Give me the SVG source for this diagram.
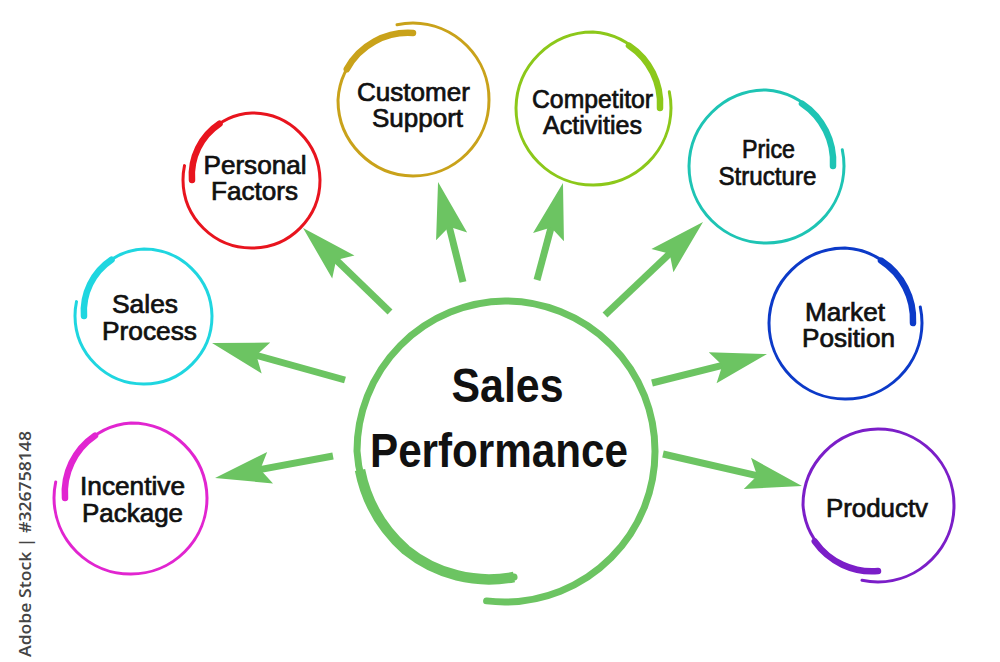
<svg xmlns="http://www.w3.org/2000/svg" width="1000" height="662" viewBox="0 0 1000 662">
<style>
.lbl{font-family:"Liberation Sans",Arial,sans-serif;font-weight:400;font-size:25px;fill:#111;stroke:#111;stroke-width:0.7;text-anchor:middle}
.big{font-family:"Liberation Sans",Arial,sans-serif;font-weight:700;font-size:49px;fill:#111;text-anchor:middle}
.ring{fill:none;stroke-width:3;stroke-linecap:round}
.thick{fill:none;stroke-width:6.5;stroke-linecap:round}
.arr{stroke:#6cc462;stroke-width:7;fill:none;marker-end:url(#ah)}
</style>
<defs>
<marker id="ah" markerUnits="userSpaceOnUse" viewBox="-14 -18 60 36" markerWidth="60" markerHeight="36" refX="0" refY="0" orient="auto" overflow="visible">
<path d="M44 0 L-12 -16 L-2 0 L-12 16 Z" fill="#6cc462"/>
</marker>
</defs>
<rect width="1000" height="662" fill="#fff"/>

<g id="connectors">
<line class="arr" x1="333" y1="456" x2="258.3" y2="469.9"/>
<line class="arr" x1="345" y1="380" x2="254.4" y2="354.8"/>
<line class="arr" x1="390" y1="312" x2="334.7" y2="258.6"/>
<line class="arr" x1="463" y1="282" x2="448.7" y2="224.7"/>
<line class="arr" x1="537" y1="280" x2="551.6" y2="225.5"/>
<line class="arr" x1="605" y1="315" x2="671.1" y2="252.3"/>
<line class="arr" x1="652" y1="383" x2="724.3" y2="364.8"/>
<line class="arr" x1="663" y1="454" x2="759.1" y2="476.1"/>
</g>

<g id="sales-performance">
<path d="M514 577 A132 132 0 0 1 406 550 A144 144 0 0 1 357 451 A150 150 0 0 1 505 301 A150 150 0 0 1 655 451 A150.5 150.5 0 0 1 505 602 A151 151 0 0 1 486.6 600.9" fill="none" stroke="#6cc462" stroke-width="7" stroke-linecap="round"/>
<path d="M514 577 A132 132 0 0 1 406 550 A144 144 0 0 1 360 470" fill="none" stroke="#6cc462" stroke-width="10.5"/>
<text class="big" x="507.5" y="402" textLength="112" lengthAdjust="spacingAndGlyphs">Sales</text>
<text class="big" x="499" y="467" textLength="258" lengthAdjust="spacingAndGlyphs">Performance</text>
</g>

<g id="incentive-package">
<path class="ring" stroke="#e125d0" d="M65 498 A71 71 0 0 1 131 423 A76 76 0 0 1 207 498 A76 76 0 0 1 131 574 A76.5 76.5 0 0 1 54 498 A77 77 0 0 1 55.7 482"/>
<path class="thick" stroke="#e125d0" d="M65 498 A69 69 0 0 1 95 435.6"/>
<text class="lbl" x="132.5" y="495" textLength="105" lengthAdjust="spacingAndGlyphs">Incentive</text>
<text class="lbl" x="132.5" y="522" textLength="101" lengthAdjust="spacingAndGlyphs">Package</text>
</g>

<g id="sales-process">
<path class="ring" stroke="#1fd6e0" d="M84 316 A63 63 0 0 1 144 249 A68 68 0 0 1 212 316 A68 68 0 0 1 144 384 A68.5 68.5 0 0 1 75 316 A69 69 0 0 1 76.5 301.6"/>
<path class="thick" stroke="#1fd6e0" d="M84 316 A62 62 0 0 1 111.5 259.7"/>
<text class="lbl" x="145" y="313" textLength="66" lengthAdjust="spacingAndGlyphs">Sales</text>
<text class="lbl" x="149.5" y="340" textLength="95" lengthAdjust="spacingAndGlyphs">Process</text>
</g>

<g id="personal-factors">
<path class="ring" stroke="#e8141e" d="M192 180 A63 63 0 0 1 252 113 A68 68 0 0 1 320 180 A68 68 0 0 1 252 248 A68.5 68.5 0 0 1 183 180 A69 69 0 0 1 184.5 165.6"/>
<path class="thick" stroke="#e8141e" d="M192 180 A62 62 0 0 1 219.5 123.7"/>
<text class="lbl" x="255" y="174" textLength="103" lengthAdjust="spacingAndGlyphs">Personal</text>
<text class="lbl" x="254.5" y="200" textLength="87" lengthAdjust="spacingAndGlyphs">Factors</text>
</g>

<g id="customer-support">
<path class="ring" stroke="#c9a21a" d="M413 33 A71 71 0 0 0 338 100 A76 76 0 0 0 413 176 A76 76 0 0 0 489 100 A76.5 76.5 0 0 0 413 23 A77 77 0 0 0 397 24.7"/>
<path class="thick" stroke="#c9a21a" d="M413 33 A70 70 0 0 0 346.8 69.1"/>
<text class="lbl" x="413.5" y="101" textLength="113" lengthAdjust="spacingAndGlyphs">Customer</text>
<text class="lbl" x="417.5" y="127" textLength="91" lengthAdjust="spacingAndGlyphs">Support</text>
</g>

<g id="competitor-activities">
<path class="ring" stroke="#8cc81a" d="M660 108 A72 72 0 0 0 593 32 A77 77 0 0 0 516 108 A77 77 0 0 0 593 185 A77.5 77.5 0 0 0 671 108 A78 78 0 0 0 669.3 91.8"/>
<path class="thick" stroke="#8cc81a" d="M660 108 A70 70 0 0 0 629 45.6"/>
<text class="lbl" x="592.5" y="108" textLength="121" lengthAdjust="spacingAndGlyphs">Competitor</text>
<text class="lbl" x="592.5" y="134" textLength="99" lengthAdjust="spacingAndGlyphs">Activities</text>
</g>

<g id="price-structure">
<path class="ring" stroke="#1ec4b4" d="M833 166 A72 72 0 0 0 766 90 A77 77 0 0 0 689 166 A77 77 0 0 0 766 243 A77.5 77.5 0 0 0 844 166 A78 78 0 0 0 842.3 149.8"/>
<path class="thick" stroke="#1ec4b4" d="M833 166 A70 70 0 0 0 802 103.6"/>
<text class="lbl" x="768.5" y="158" textLength="53" lengthAdjust="spacingAndGlyphs">Price</text>
<text class="lbl" x="767.5" y="185" textLength="98" lengthAdjust="spacingAndGlyphs">Structure</text>
</g>

<g id="market-position">
<path class="ring" stroke="#0c3ac8" d="M913 323 A72 72 0 0 0 845 248 A76 76 0 0 0 769 323 A76 76 0 0 0 845 399 A76.5 76.5 0 0 0 922 323 A77 77 0 0 0 920.3 307"/>
<path class="thick" stroke="#0c3ac8" d="M913 323 A70 70 0 0 0 881 260.6"/>
<text class="lbl" x="845" y="321" textLength="80" lengthAdjust="spacingAndGlyphs">Market</text>
<text class="lbl" x="848.5" y="347" textLength="93" lengthAdjust="spacingAndGlyphs">Position</text>
</g>

<g id="productv">
<path class="ring" stroke="#7b1ec8" d="M878 571 A71 71 0 0 1 803 505 A76 76 0 0 1 878 429 A76 76 0 0 1 954 505 A76.5 76.5 0 0 1 878 582 A77 77 0 0 1 862 580.3"/>
<path class="thick" stroke="#7b1ec8" d="M878 571 A70 70 0 0 1 814.8 541.5"/>
<text class="lbl" x="877" y="517" textLength="102" lengthAdjust="spacingAndGlyphs">Productv</text>
</g>

<text x="0" y="0" transform="translate(31,657) rotate(-90)" font-family="'Open Sans','Liberation Sans',sans-serif" font-weight="600" font-size="17" fill="#444" textLength="226" lengthAdjust="spacingAndGlyphs">Adobe Stock | #326758148</text>
</svg>
